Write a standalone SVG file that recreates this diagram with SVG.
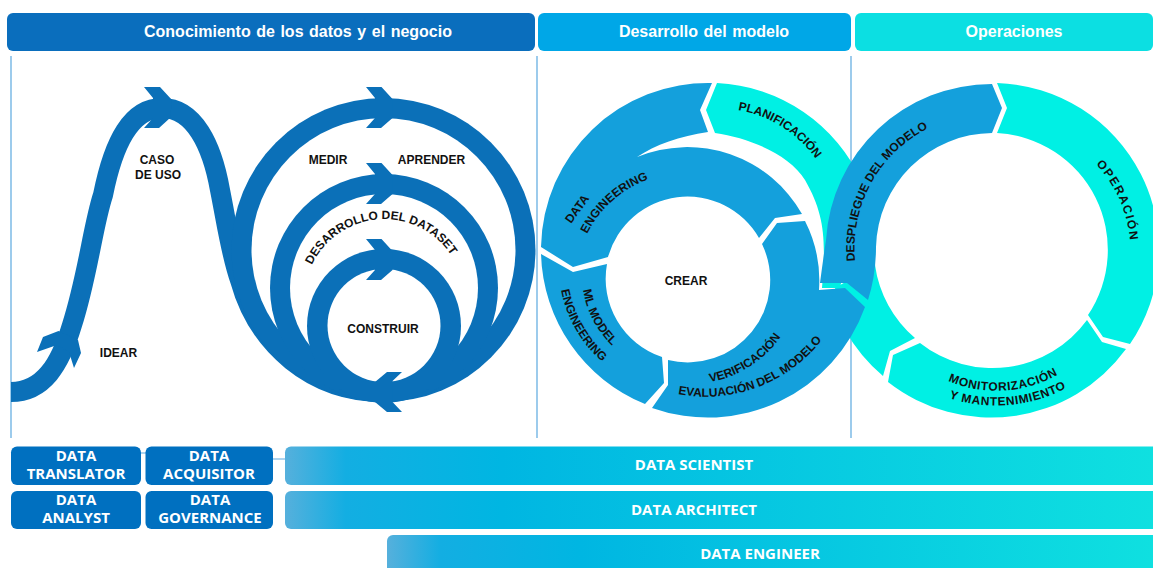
<svg xmlns="http://www.w3.org/2000/svg" width="1153" height="568" viewBox="0 0 1153 568">
<style>
.h{font:bold 16px "Liberation Sans",Arial,sans-serif;fill:#fff;text-anchor:middle;word-spacing:1.1px}
.t{font:bold 12px "Liberation Sans",Arial,sans-serif;fill:#111;text-anchor:middle}
.c{font:bold 12px "Liberation Sans",Arial,sans-serif;fill:#111}
.r{font:bold 15px "Open Sans",sans-serif;fill:#fff;text-anchor:middle}
.b{fill:#0B70B8}.w{fill:#fff}.d{fill:#14A0DC}.y{fill:#00F0E4}
.v{stroke:#5CA9DF;stroke-width:1.2;fill:none}
</style>
<defs>
<linearGradient id="g1" x1="0" x2="1" y1="0" y2="0"><stop offset="0" stop-color="#56B0DC"/><stop offset=".07" stop-color="#13AEE2"/><stop offset=".25" stop-color="#00B6E2"/><stop offset="1" stop-color="#0FE0E0"/></linearGradient>
<path id="p1" d="M312,265 A80,80 0 0 1 458,268"/>
<path id="p2" d="M738,110 A120,120 0 0 1 818,162"/>
<path id="p3" d="M571,224 L592,195"/>
<path id="p4" d="M587,234 A110,110 0 0 1 656,177"/>
<path id="p5" d="M583,290 A100,100 0 0 0 622,354"/>
<path id="p6" d="M561,290 A128,128 0 0 0 610,368"/>
<path id="p7" d="M710,382 A110,110 0 0 0 784,332"/>
<path id="p8" d="M678,394 A147,147 0 0 0 829,330"/>
<path id="p9" d="M855,261 A135,135 0 0 1 935,125"/>
<path id="p10" d="M1096,164 A130,130 0 0 1 1130,240"/>
<path id="p11" d="M948,381 A125,125 0 0 0 1064,371"/>
<path id="p12" d="M949,398 A150,150 0 0 0 1070,386"/>
</defs>
<g id="lines" class="v"><path d="M11,56V438M537,56V438M851,56V438"/></g>
<g id="headers">
<g id="h1"><rect x="7" y="13" width="528" height="38" rx="6" fill="#0A6EBD"/><text class="h" x="298" y="37">Conocimiento de los datos y el negocio</text></g>
<g id="h2"><rect x="538" y="13" width="313" height="38" rx="6" fill="#00A7E7"/><text class="h" x="704" y="37">Desarrollo del modelo</text></g>
<g id="h3"><rect x="855" y="13" width="298" height="38" rx="6" fill="#0CDFE2"/><text class="h" x="1014" y="37">Operaciones</text></g>
</g>
<g id="lean">
<path d="M11,392 C43,392 60,365 72,325 C88,275 93,225 103,195 C114,140 132,108 162,108 C194,108 212,145 220,190 C227,225 231,255 240,280 C258,345 312,392 383,392" fill="none" stroke="#0B70B8" stroke-width="20"/>
<circle class="b" cx="383.500" cy="250" r="152"/><circle class="w" cx="383.500" cy="250" r="132"/>
<circle class="b" cx="384" cy="288" r="114"/><circle class="w" cx="384" cy="288" r="94"/>
<circle class="b" cx="384" cy="326" r="77"/><circle class="w" cx="384" cy="325.500" r="56.500"/>
<path class="b" d="M144,87H160L172,100L170,118L159,128H144L153,118V98Z"/>
<path class="b" d="M366,87H381.500L392.500,99V118L381,128H366L375,118V98Z"/>
<path class="b" d="M366,163H381.500L392.500,175V194L381,204H366L375,194V174Z"/>
<path class="b" d="M366,239H381.500L392.500,251V270L381,280H366L375,270V250Z"/>
<path class="b" d="M402,372H387L375,382V402L387,412H402L392.500,402V381Z"/>
<path class="b" d="M37,352L43,337L58.500,331L78,340L81,353L74,368L69,352L57,345Z"/>
</g>
<g id="lean-labels">
<text class="t" x="118.500" y="357">IDEAR</text>
<text class="t" x="157" y="164">CASO</text><text class="t" x="158" y="179">DE USO</text>
<text class="t" x="328" y="164">MEDIR</text><text class="t" x="431.500" y="164">APRENDER</text>
<text class="t" x="383" y="333">CONSTRUIR</text>
<text class="t" x="686" y="285">CREAR</text>
<text class="c"><textPath href="#p1">DESARROLLO DEL DATASET</textPath></text>
</g>
<g id="planificacion"><path class="y" d="M717,83 A167,167 0 0 1 862,182 L840,288 H822 C826,240 825,215 805,180 C790,155 750,138 715,133 L706,110Z"/><text class="c"><textPath href="#p2">PLANIFICACIÓN</textPath></text></g>
<g id="sliver"><path class="y" d="M875,265 A117,117 0 0 0 915,338 L890,351 L883,376 A167,167 0 0 1 845,330 L835,288Z"/></g>
<g id="data-engineering"><path class="d" d="M541,247 A167,167 0 0 1 712,83 L700,110 L708,132 C680,136 655,145 637,157 A132,132 0 0 1 802,214 L775,218 L759,238 A82.500,82.500 0 0 0 608,257 L573,267Z"/><text class="c"><textPath href="#p3">DATA</textPath></text><text class="c"><textPath href="#p4">ENGINEERING</textPath></text></g>
<g id="ml"><path class="d" d="M541,254 L573,272 L607,264 A82.500,82.500 0 0 0 662,357 L664,383 L645,404 A167,167 0 0 1 541,254Z"/><text class="c"><textPath href="#p5">ML MODEL</textPath></text><text class="c"><textPath href="#p6">ENGINEERING</textPath></text></g>
<g id="verificacion"><path class="d" d="M762,244 L777,223 L805,221 A132,132 0 0 1 819,290 L845,288 L865,307 A167,167 0 0 1 652,408 L668,385 L668,360 A82.500,82.500 0 0 0 762,244Z"/><text class="c"><textPath href="#p7">VERIFICACIÓN</textPath></text><text class="c"><textPath href="#p8">EVALUACIÓN DEL MODELO</textPath></text></g>
<g id="despliegue"><path class="d" d="M992,84 L1002,108 L992,133 A117,117 0 0 0 876,247 Q876,275 868,300 L847,283 H820 Q823,260 826,240 A166,166 0 0 1 992,84Z"/><text class="c"><textPath href="#p9">DESPLIEGUE DEL MODELO</textPath></text></g>
<g id="operacion"><path class="y" d="M997,83 A167,167 0 0 1 1130,344 L1103,337 L1088,315 A117,117 0 0 0 997,133 L1007,108Z"/><text class="c" letter-spacing="1.500"><textPath href="#p10">OPERACIÓN</textPath></text></g>
<g id="monitorizacion"><path class="y" d="M1126,349 L1102,342 L1087,320 A117,117 0 0 1 920,343 L893,355 L888,382 A167,167 0 0 0 1126,349Z"/><text class="c" letter-spacing=".6"><textPath href="#p11">MONITORIZACIÓN</textPath></text><text class="c" letter-spacing=".6"><textPath href="#p12">Y MANTENIMIENTO</textPath></text></g>
<g id="connectors" class="v"><path d="M141,453H146M273,459H286"/></g>
<g id="translator"><rect x="11" y="446.500" width="130" height="38.500" rx="6" fill="#0070C0"/><text class="r" x="76" y="461">DATA</text><text class="r" x="76" y="479">TRANSLATOR</text></g>
<g id="acquisitor"><rect x="145.500" y="446.500" width="127.500" height="38.500" rx="6" fill="#0070C0"/><text class="r" x="209" y="461">DATA</text><text class="r" x="209" y="479">ACQUISITOR</text></g>
<g id="analyst"><rect x="11" y="491" width="130" height="38" rx="6" fill="#0070C0"/><text class="r" x="76" y="505">DATA</text><text class="r" x="76" y="523">ANALYST</text></g>
<g id="governance"><rect x="145.500" y="491" width="127.500" height="38" rx="6" fill="#0070C0"/><text class="r" x="210" y="505">DATA</text><text class="r" x="210" y="523">GOVERNANCE</text></g>
<g id="scientist"><path d="M1153,446.500H291a6,6 0 0 0 -6,6V479a6,6 0 0 0 6,6H1153Z" fill="url(#g1)"/><text class="r" x="694" y="470">DATA SCIENTIST</text></g>
<g id="architect"><path d="M1153,491H291a6,6 0 0 0 -6,6V523a6,6 0 0 0 6,6H1153Z" fill="url(#g1)"/><text class="r" x="694" y="515">DATA ARCHITECT</text></g>
<g id="engineer"><path d="M1153,535H393a6,6 0 0 0 -6,6V568H1153Z" fill="url(#g1)"/><text class="r" x="760" y="559">DATA ENGINEER</text></g>
</svg>
